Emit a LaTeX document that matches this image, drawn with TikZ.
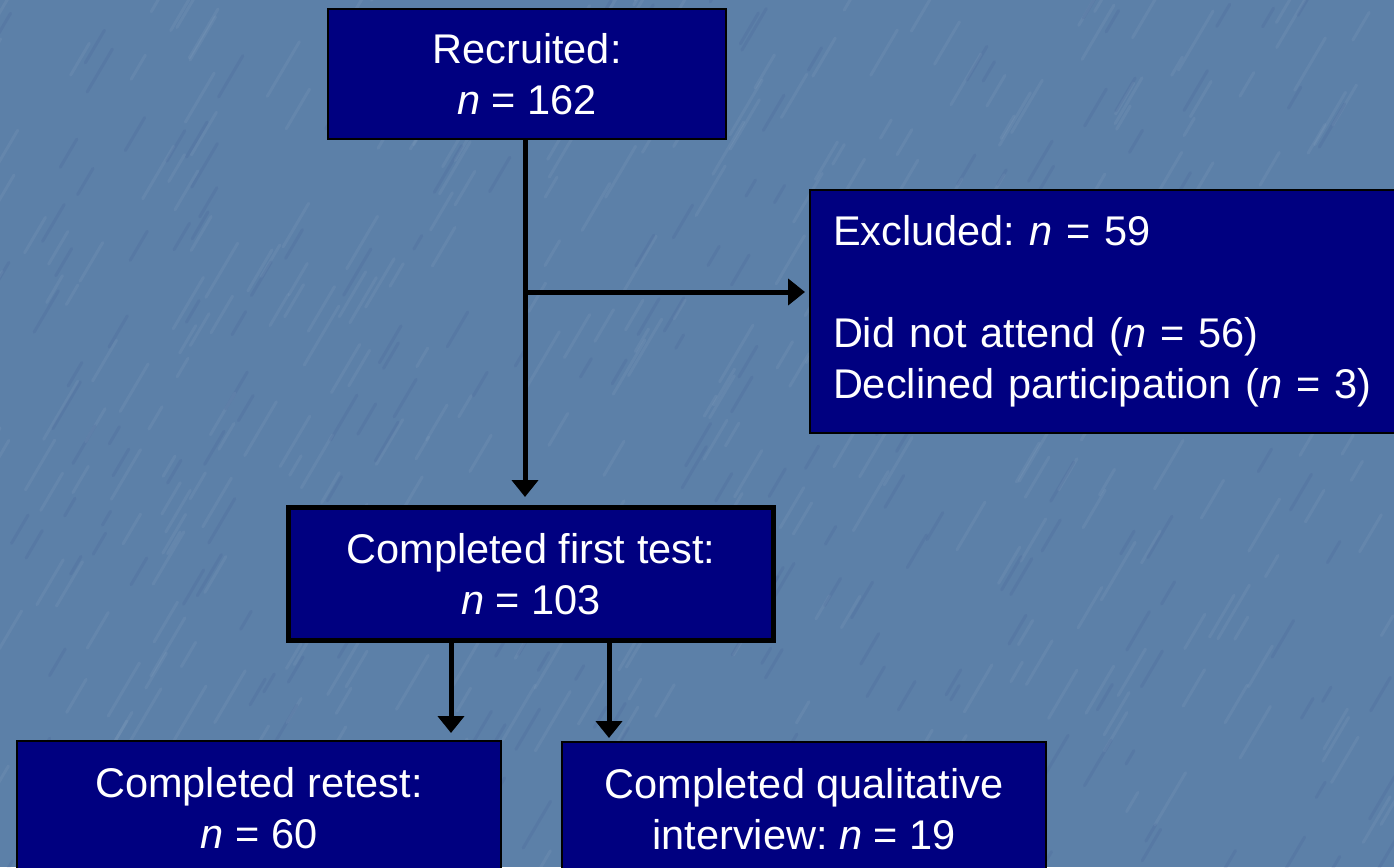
\documentclass[tikz,border=0pt]{standalone}
\usepackage{fontspec}
\setmainfont{Liberation Sans}
\frenchspacing
\usetikzlibrary{arrows.meta,calc}
\definecolor{bgblue}{RGB}{92,128,168}
\definecolor{boxnavy}{RGB}{0,0,128}
\tikzset{
  box/.style={draw=black, line width=2pt, fill=boxnavy, text=white, anchor=north west,
    font=\fontsize{41.5}{51}\selectfont, align=center, inner sep=0pt},
  conn/.style={line width=5pt, -{Triangle[width=26pt,length=17pt]}},
}
\begin{document}
\begin{tikzpicture}[x=1pt,y=-1pt]
\useasboundingbox (0,0) rectangle (1394,867);
\clip (0,0) rectangle (1394,867);
\fill[bgblue] (0,0) rectangle (1394,867);
% subtle streaky texture
\pgfmathsetseed{7}
\foreach \i in {1,...,400} {
  \pgfmathsetmacro{\xx}{rnd*1454-30}
  \pgfmathsetmacro{\yy}{rnd*927-30}
  \pgfmathsetmacro{\ll}{20+rnd*50}
  \draw[white, opacity=0.05, line width=3pt, line cap=round] (\xx,\yy) -- ++(\ll*0.5,-\ll*0.85);
}
\foreach \i in {1,...,250} {
  \pgfmathsetmacro{\xx}{rnd*1454-30}
  \pgfmathsetmacro{\yy}{rnd*927-30}
  \pgfmathsetmacro{\ll}{15+rnd*40}
  \draw[black!60!blue, opacity=0.05, line width=3pt, line cap=round] (\xx,\yy) -- ++(\ll*0.5,-\ll*0.85);
}
\node[box, minimum width=398pt, minimum height=130pt] (rec) at (327,8) {Recruited:\\\textit{n} = 162};
\node[box, minimum width=600pt, minimum height=243pt, text width=555pt, align=left, inner xsep=23pt] (excl) at (809,189)
  {Excluded: \textit{n} = 59\\\mbox{}\\Did not attend (\textit{n} = 56)\\Declined participation (\textit{n} = 3)};
\node[box, line width=5pt, minimum width=485pt, minimum height=133pt] (first) at (286,505) {Completed first test:\\\textit{n} = 103};
\node[box, minimum width=484pt, minimum height=135pt] (retest) at (16,740) {Completed retest:\\\textit{n} = 60};
\node[box, minimum width=484pt, minimum height=134pt] (qual) at (561,741) {Completed qualitative\\interview: \textit{n} = 19};

\coordinate (top) at ($(rec.south)+(-2,0)$);
\coordinate (br) at ($(rec.south)+(-2,152)$);
\coordinate (a1) at ($(first.south west)+(165,0)$);
\coordinate (a2) at ($(first.south west)+(323,0)$);
\draw[conn, shorten >=8pt] (top) -- (top |- first.north);
\draw[conn, shorten >=4pt] (br) -- (br -| excl.west);
\draw[conn, shorten >=7pt] (a1) -- (a1 |- retest.north);
\draw[conn, shorten >=3pt] (a2) -- (a2 |- qual.north);
\end{tikzpicture}
\end{document}
